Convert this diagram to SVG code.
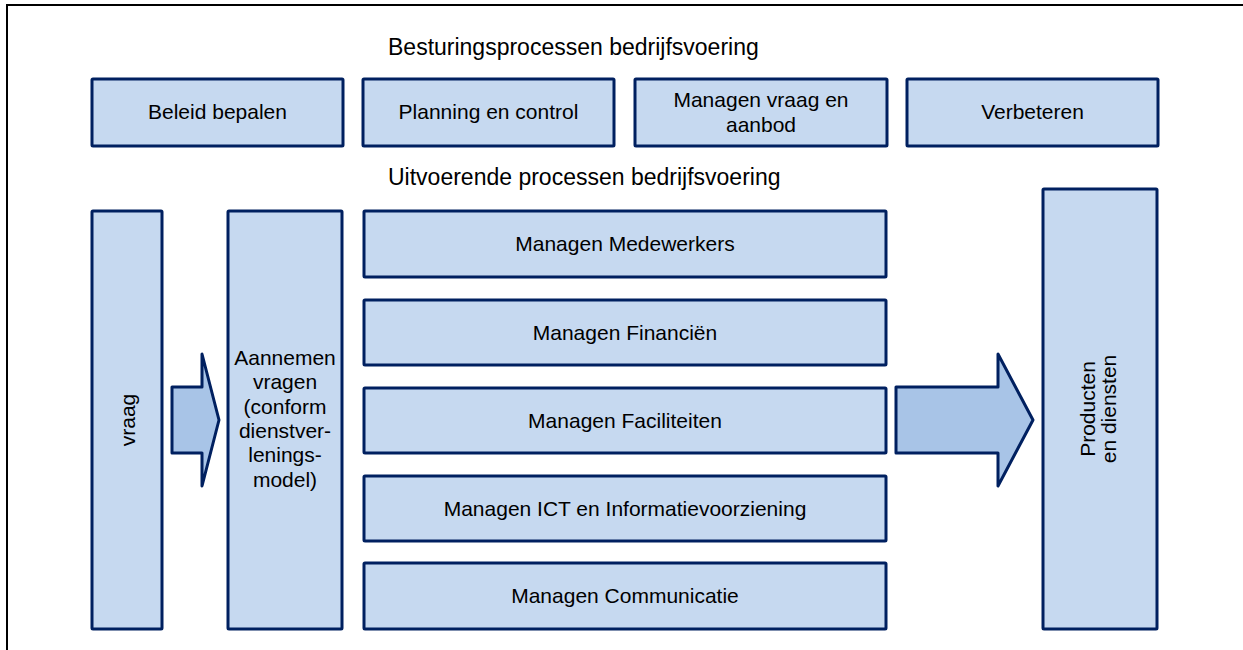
<svg xmlns="http://www.w3.org/2000/svg" width="1243" height="650" viewBox="0 0 1243 650">
<style>
.box{fill:#c6d9f0;stroke:#002060;stroke-width:3;}
.arrow{fill:#a8c4e7;stroke:#002060;stroke-width:3;stroke-linejoin:round;}
text{font-family:"Liberation Sans",Arial,sans-serif;font-size:21px;fill:#000;text-anchor:middle;}
.title{font-size:23px;text-anchor:start;}
</style>
<rect width="1243" height="650" fill="#fff"/>
<path d="M7 650 V5 H1243" fill="none" stroke="#000" stroke-width="2"/>
<text class="title" x="388" y="55">Besturingsprocessen bedrijfsvoering</text>
<text class="title" x="388" y="185">Uitvoerende processen bedrijfsvoering</text>
<g id="beleid"><rect class="box" x="92" y="79" width="251" height="67" rx="1"/><text x="217.5" y="119">Beleid bepalen</text></g>
<g id="planning"><rect class="box" x="363" y="79" width="251" height="67" rx="1"/><text x="488.5" y="119">Planning en control</text></g>
<g id="vraagaanbod"><rect class="box" x="635" y="79" width="252" height="67" rx="1"/><text x="761" y="107">Managen vraag en</text><text x="761" y="132">aanbod</text></g>
<g id="verbeteren"><rect class="box" x="907" y="79" width="251" height="67" rx="1"/><text x="1032.5" y="119">Verbeteren</text></g>
<g id="vraag"><rect class="box" x="92" y="211" width="70" height="418" rx="1"/><text transform="translate(135 420) rotate(-90)">vraag</text></g>
<g id="aannemen"><rect class="box" x="228" y="211" width="114" height="418" rx="1"/>
<text x="285" y="365">Aannemen</text><text x="285" y="389">vragen</text><text x="285" y="414">(conform</text><text x="285" y="438">dienstver-</text><text x="285" y="462">lenings-</text><text x="285" y="487">model)</text></g>
<g id="medewerkers"><rect class="box" x="364" y="211" width="522" height="66" rx="1"/><text x="625" y="251">Managen Medewerkers</text></g>
<g id="financien"><rect class="box" x="364" y="300" width="522" height="65" rx="1"/><text x="625" y="340">Managen Financiën</text></g>
<g id="faciliteiten"><rect class="box" x="364" y="388" width="522" height="65" rx="1"/><text x="625" y="428">Managen Faciliteiten</text></g>
<g id="ict"><rect class="box" x="364" y="476" width="522" height="65" rx="1"/><text x="625" y="516">Managen ICT en Informatievoorziening</text></g>
<g id="communicatie"><rect class="box" x="364" y="563" width="522" height="66" rx="1"/><text x="625" y="603">Managen Communicatie</text></g>
<g id="producten"><rect class="box" x="1043" y="189" width="114" height="440" rx="1"/><text transform="translate(1095 409) rotate(-90)">Producten</text><text transform="translate(1116 409) rotate(-90)">en diensten</text></g>
<g id="connectors">
<path class="arrow" d="M172 387 H202 V354 L219 420 L202 486 V453 H172 Z"/>
<path class="arrow" d="M896 387 H998 V354 L1033 420 L998 486 V453 H896 Z"/>
</g>
</svg>
